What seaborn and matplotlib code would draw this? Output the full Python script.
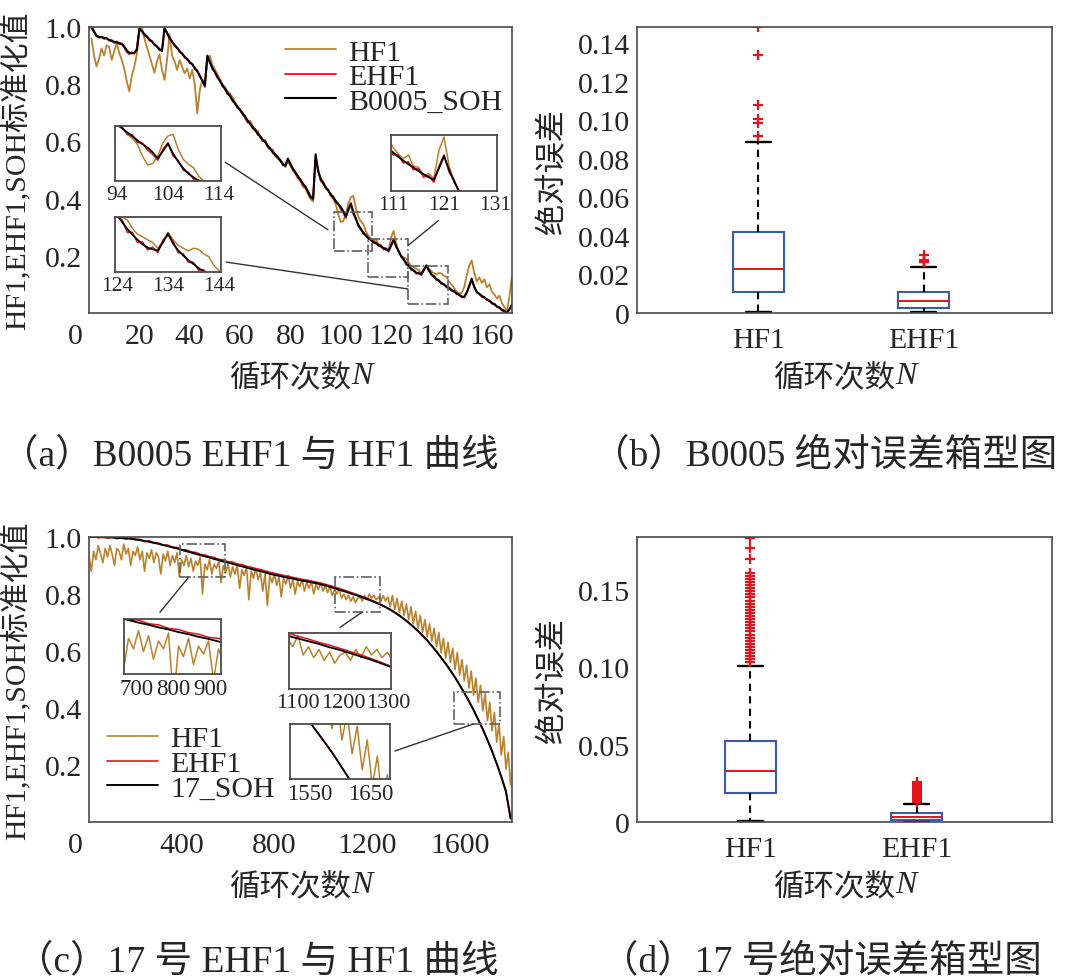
import numpy as np
import pandas as pd
import matplotlib
matplotlib.use("Agg")
import matplotlib.pyplot as plt
import seaborn as sns
from matplotlib.patches import Rectangle, ConnectionPatch

# ---------------- B0005 (cycles 1..168) ----------------
b5_cycle = list(range(1, 169))
b5_soh = [
    1.000, 0.985, 0.968, 0.966, 0.964, 0.962, 0.960, 0.955, 0.951, 0.948,
    0.946, 0.944, 0.940, 0.932, 0.918, 0.910, 0.908, 0.910, 0.920, 0.995,
    0.985, 0.975, 0.966, 0.957, 0.949, 0.940, 0.931, 0.923, 0.916, 0.998,
    0.978, 0.962, 0.948, 0.937, 0.926, 0.916, 0.906, 0.896, 0.887, 0.878,
    0.869, 0.858, 0.845, 0.830, 0.812, 0.795, 0.900, 0.876, 0.857, 0.841,
    0.826, 0.811, 0.797, 0.783, 0.770, 0.758, 0.745, 0.732, 0.721, 0.709,
    0.698, 0.686, 0.673, 0.661, 0.649, 0.640, 0.628, 0.617, 0.606, 0.597,
    0.585, 0.574, 0.563, 0.553, 0.545, 0.533, 0.520, 0.515, 0.540, 0.520,
    0.505, 0.490, 0.478, 0.465, 0.452, 0.440, 0.425, 0.405, 0.400, 0.555,
    0.495, 0.470, 0.455, 0.440, 0.428, 0.416, 0.404, 0.392, 0.380, 0.370,
    0.356, 0.338, 0.360, 0.382, 0.352, 0.328, 0.308, 0.292, 0.281, 0.270,
    0.262, 0.255, 0.249, 0.243, 0.238, 0.232, 0.227, 0.222, 0.218, 0.236,
    0.256, 0.234, 0.215, 0.199, 0.186, 0.174, 0.164, 0.155, 0.147, 0.141,
    0.138, 0.136, 0.150, 0.166, 0.148, 0.136, 0.127, 0.119, 0.112, 0.105,
    0.099, 0.093, 0.087, 0.081, 0.075, 0.069, 0.063, 0.058, 0.055, 0.070,
    0.095, 0.120, 0.090, 0.075, 0.066, 0.060, 0.054, 0.048, 0.042, 0.036,
    0.030, 0.024, 0.018, 0.012, 0.006, 0.000, 0.012, 0.030,
]
b5_ehf1 = [
    0.995, 0.982, 0.970, 0.962, 0.966, 0.958, 0.963, 0.952, 0.955, 0.944,
    0.950, 0.940, 0.943, 0.928, 0.912, 0.905, 0.912, 0.906, 0.925, 0.990,
    0.988, 0.970, 0.968, 0.952, 0.951, 0.936, 0.934, 0.918, 0.920, 0.990,
    0.982, 0.958, 0.951, 0.933, 0.929, 0.912, 0.909, 0.892, 0.890, 0.873,
    0.872, 0.853, 0.848, 0.826, 0.815, 0.790, 0.893, 0.880, 0.852, 0.845,
    0.822, 0.815, 0.792, 0.787, 0.765, 0.762, 0.740, 0.736, 0.716, 0.713,
    0.693, 0.690, 0.668, 0.665, 0.645, 0.644, 0.623, 0.621, 0.601, 0.601,
    0.580, 0.578, 0.558, 0.557, 0.540, 0.537, 0.515, 0.519, 0.535, 0.524,
    0.500, 0.494, 0.473, 0.469, 0.447, 0.444, 0.420, 0.409, 0.396, 0.545,
    0.500, 0.465, 0.459, 0.436, 0.432, 0.410, 0.409, 0.386, 0.384, 0.362,
    0.350, 0.332, 0.365, 0.385, 0.345, 0.332, 0.302, 0.296, 0.276, 0.274,
    0.258, 0.258, 0.245, 0.247, 0.234, 0.236, 0.222, 0.225, 0.214, 0.240,
    0.258, 0.230, 0.218, 0.195, 0.190, 0.168, 0.168, 0.150, 0.151, 0.137,
    0.142, 0.132, 0.154, 0.163, 0.152, 0.132, 0.130, 0.115, 0.115, 0.101,
    0.102, 0.089, 0.090, 0.077, 0.078, 0.065, 0.066, 0.054, 0.058, 0.074,
    0.092, 0.116, 0.094, 0.071, 0.069, 0.056, 0.057, 0.044, 0.045, 0.032,
    0.033, 0.020, 0.021, 0.008, 0.009, 0.002, 0.015, 0.028,
]
b5_hf1 = [
    0.960, 0.900, 0.862, 0.890, 0.925, 0.900, 0.936, 0.930, 0.885, 0.915,
    0.944, 0.910, 0.885, 0.855, 0.810, 0.775, 0.830, 0.862, 0.905, 0.985,
    1.000, 0.960, 0.930, 0.900, 0.870, 0.840, 0.880, 0.905, 0.850, 0.815,
    0.885, 0.975, 0.900, 0.880, 0.850, 0.885, 0.860, 0.838, 0.855, 0.820,
    0.850, 0.800, 0.698, 0.780, 0.815, 0.800, 0.885, 0.900, 0.868, 0.852,
    0.835, 0.818, 0.800, 0.790, 0.775, 0.768, 0.755, 0.738, 0.718, 0.712,
    0.702, 0.680, 0.665, 0.672, 0.655, 0.635, 0.638, 0.612, 0.600, 0.605,
    0.580, 0.570, 0.572, 0.548, 0.540, 0.530, 0.525, 0.510, 0.530, 0.515,
    0.498, 0.485, 0.470, 0.460, 0.440, 0.435, 0.415, 0.398, 0.390, 0.540,
    0.505, 0.460, 0.452, 0.435, 0.430, 0.410, 0.398, 0.380, 0.345, 0.318,
    0.322, 0.345, 0.385, 0.405, 0.410, 0.365, 0.335, 0.320, 0.310, 0.285,
    0.270, 0.260, 0.252, 0.258, 0.240, 0.238, 0.225, 0.228, 0.220, 0.265,
    0.287, 0.240, 0.215, 0.200, 0.195, 0.190, 0.175, 0.165, 0.160, 0.155,
    0.150, 0.140, 0.152, 0.168, 0.155, 0.145, 0.140, 0.135, 0.140, 0.138,
    0.130, 0.125, 0.110, 0.100, 0.088, 0.075, 0.068, 0.070, 0.090, 0.130,
    0.165, 0.184, 0.140, 0.110, 0.125, 0.105, 0.118, 0.090, 0.100, 0.075,
    0.065, 0.050, 0.060, 0.035, 0.020, 0.005, 0.060, 0.130,
]

# ---------------- cell 17 ----------------
c17_cycle = list(range(0, 1821, 20))
c17_soh = [
    1.000, 1.000, 1.000, 0.999, 0.999, 0.998, 0.997, 0.996, 0.995, 0.994,
    0.992, 0.989, 0.986, 0.983, 0.980, 0.976, 0.972, 0.968, 0.964, 0.960,
    0.955, 0.950, 0.946, 0.941, 0.937, 0.932, 0.928, 0.923, 0.919, 0.914,
    0.910, 0.906, 0.901, 0.897, 0.893, 0.888, 0.884, 0.880, 0.876, 0.871,
    0.867, 0.864, 0.860, 0.857, 0.854, 0.850, 0.847, 0.844, 0.841, 0.838,
    0.834, 0.830, 0.825, 0.820, 0.815, 0.810, 0.805, 0.799, 0.794, 0.788,
    0.782, 0.776, 0.769, 0.762, 0.754, 0.745, 0.735, 0.724, 0.712, 0.699,
    0.685, 0.670, 0.654, 0.637, 0.618, 0.598, 0.577, 0.555, 0.532, 0.507,
    0.481, 0.453, 0.424, 0.393, 0.360, 0.325, 0.288, 0.248, 0.205, 0.158,
    0.107, 0.012,
]
c17_ehf1 = [
    0.998, 1.002, 0.997, 1.001, 0.996, 1.000, 0.994, 0.998, 0.993, 0.997,
    0.990, 0.992, 0.984, 0.987, 0.978, 0.979, 0.971, 0.972, 0.963, 0.964,
    0.955, 0.955, 0.948, 0.946, 0.939, 0.937, 0.931, 0.928, 0.922, 0.920,
    0.913, 0.912, 0.905, 0.903, 0.897, 0.894, 0.889, 0.886, 0.881, 0.877,
    0.872, 0.869, 0.865, 0.862, 0.858, 0.855, 0.851, 0.849, 0.845, 0.842,
    0.838, 0.834, 0.829, 0.825, 0.819, 0.814, 0.808, 0.803, 0.797, 0.791,
    0.785, 0.778, 0.771, 0.763, 0.755, 0.746, 0.736, 0.725, 0.712, 0.700,
    0.685, 0.671, 0.653, 0.638, 0.617, 0.599, 0.576, 0.556, 0.531, 0.508,
    0.480, 0.454, 0.423, 0.394, 0.359, 0.326, 0.287, 0.249, 0.204, 0.159,
    0.106, 0.014,
]
c17_hf1_cycle = list(range(0, 1821, 10))
c17_hf1 = [
    0.930, 0.880, 0.950, 0.920, 0.970, 0.940, 0.910, 0.960, 0.930, 0.970,
    0.940, 0.900, 0.960, 0.950, 0.920, 0.975, 0.940, 0.960, 0.900, 0.950,
    0.935, 0.965, 0.920, 0.950, 0.880, 0.945, 0.925, 0.955, 0.910, 0.945,
    0.930, 0.870, 0.940, 0.915, 0.950, 0.900, 0.935, 0.910, 0.945, 0.860,
    0.920, 0.900, 0.935, 0.895, 0.925, 0.880, 0.915, 0.900, 0.930, 0.800,
    0.905, 0.885, 0.920, 0.870, 0.905, 0.890, 0.915, 0.840, 0.900, 0.875,
    0.905, 0.860, 0.895, 0.870, 0.900, 0.820, 0.885, 0.865, 0.895, 0.780,
    0.880, 0.855, 0.890, 0.850, 0.875, 0.810, 0.870, 0.760, 0.865, 0.840,
    0.870, 0.830, 0.860, 0.790, 0.855, 0.835, 0.865, 0.820, 0.850, 0.800,
    0.845, 0.825, 0.850, 0.810, 0.840, 0.820, 0.845, 0.800, 0.835, 0.815,
    0.840, 0.810, 0.830, 0.805, 0.825, 0.795, 0.815, 0.800, 0.820, 0.785,
    0.800, 0.780, 0.795, 0.775, 0.790, 0.770, 0.785, 0.790, 0.775, 0.795,
    0.780, 0.800, 0.785, 0.795, 0.780, 0.790, 0.775, 0.795, 0.775, 0.790,
    0.755, 0.795, 0.745, 0.785, 0.735, 0.775, 0.725, 0.765, 0.710, 0.755,
    0.695, 0.740, 0.680, 0.725, 0.665, 0.710, 0.650, 0.695, 0.635, 0.680,
    0.615, 0.665, 0.595, 0.645, 0.575, 0.630, 0.560, 0.610, 0.535, 0.595,
    0.515, 0.570, 0.495, 0.550, 0.470, 0.530, 0.445, 0.505, 0.420, 0.480,
    0.390, 0.450, 0.355, 0.420, 0.320, 0.385, 0.280, 0.345, 0.235, 0.300,
    0.185, 0.245, 0.130,
]

# ---------------- absolute errors (value / count tables) ----------------
b5_err_hf1_vals = [0.0005, 0.004, 0.008, 0.0109, 0.016, 0.023, 0.030, 0.036, 0.042,
                   0.055, 0.068, 0.078, 0.0886, 0.0918, 0.0987, 0.1004, 0.1077, 0.134, 0.1483]
b5_err_hf1_cnts = [2, 10, 15, 20, 20, 20, 20, 15, 20, 8, 6, 4, 2, 1, 1, 1, 1, 1, 1]
b5_err_ehf1_vals = [0.0003, 0.0012, 0.0024, 0.004, 0.006, 0.008, 0.011, 0.015, 0.019,
                    0.0237, 0.0262, 0.0266, 0.027, 0.0275, 0.0299]
b5_err_ehf1_cnts = [2, 10, 30, 20, 30, 20, 30, 8, 5, 2, 1, 1, 1, 1, 1]

c17_err_hf1_vals = [0.0005, 0.006, 0.012, 0.019, 0.026, 0.033, 0.042, 0.052, 0.065, 0.080, 0.092, 0.101]
c17_err_hf1_cnts = [2, 10, 15, 50, 40, 40, 40, 40, 4, 3, 2, 2]
c17_out_hf1 = [0.103, 0.105, 0.107, 0.109, 0.111, 0.113, 0.115, 0.117, 0.119, 0.121,
               0.123, 0.125, 0.127, 0.129, 0.131, 0.133, 0.135, 0.137, 0.139, 0.141,
               0.143, 0.145, 0.147, 0.149, 0.151, 0.153, 0.155, 0.157, 0.159, 0.161,
               0.170, 0.177, 0.1835]
c17_err_ehf1_vals = [0.0002, 0.0007, 0.0012, 0.002, 0.0032, 0.0045, 0.0058, 0.0075, 0.0095, 0.0118]
c17_err_ehf1_cnts = [3, 20, 70, 50, 60, 50, 60, 10, 6, 3]
c17_out_ehf1 = [0.0128, 0.0134, 0.0140, 0.0146, 0.0152, 0.0158, 0.0164, 0.0170, 0.0176,
                0.0182, 0.0188, 0.0194, 0.0200, 0.0206, 0.0212, 0.0218, 0.0224, 0.0230,
                0.0238, 0.0246, 0.0258]

methods = ["HF1", "EHF1"]

C_HF1 = "#b8822e"
C_EHF1 = "#e3131b"
C_SOH = "#000000"
C_BOX = "#3a5ba6"
C_FRAME = "#4a4a4a"

sns.set_style("white")
plt.rcParams["font.family"] = ["Liberation Serif", "Noto Sans CJK SC"]
plt.rcParams["axes.unicode_minus"] = False

W, H = 1070, 979
fig = plt.figure(figsize=(W / 100, H / 100), dpi=100)


def px_rect(x0, y0, x1, y1):
    return [x0 / W, 1 - y1 / H, (x1 - x0) / W, (y1 - y0) / H]


def frame(ax, lw=1.2):
    for s in ax.spines.values():
        s.set_visible(True)
        s.set_color(C_FRAME)
        s.set_linewidth(lw)


def cycle_label(ax, y=-0.175):
    # "循环次数" + italic N
    ax.set_xlabel("循环次数", fontsize=22)
    ax.xaxis.set_label_coords(0.475, y)
    ax.annotate("N", xy=(1.0, 0.08), xycoords=ax.xaxis.label, ha="left", va="bottom",
                fontsize=23, style="italic", family="Liberation Serif")


def draw_lines(ax, x_hf, y_hf, x, y_e, y_s, lw=1.2, label=True):
    sns.lineplot(x=x_hf, y=y_hf, color=C_HF1, lw=lw, ax=ax, estimator=None, sort=False,
                 label="HF1" if label else None, legend=False)
    sns.lineplot(x=x, y=y_e, color=C_EHF1, lw=lw, ax=ax, estimator=None, sort=False,
                 label="EHF1" if label else None, legend=False)
    sns.lineplot(x=x, y=y_s, color=C_SOH, lw=lw + 0.2, ax=ax, estimator=None, sort=False,
                 label=None, legend=False)


def main_axes(ax, xlim, xticks, xlabels):
    frame(ax)
    ax.set_xlim(*xlim)
    ax.set_ylim(0, 1.0)
    ax.set_xticks(xticks, labels=xlabels)
    ax.set_yticks([0.2, 0.4, 0.6, 0.8, 1.0], labels=["0.2", "0.4", "0.6", "0.8", "1.0"])
    ax.tick_params(direction="in", length=6, width=1.0, color=C_FRAME, labelsize=21.5)
    ax.tick_params(axis="x", pad=7)
    ax.tick_params(axis="y", pad=5)
    ax.annotate("0", xy=(0, 0), xycoords=("data", "axes fraction"), xytext=(-9.5, -7),
                textcoords="offset points", ha="center", va="top", fontsize=21.5)
    cycle_label(ax)
    ax.set_ylabel("HF1,EHF1,SOH标准化值", fontsize=21.5)
    ax.yaxis.set_label_coords(-0.135, 0.5)


def inset(main, box_px, rect, xlim, ylim, tick_pos, tick_lab, data, conn, fs=15.5):
    ins = fig.add_axes(px_rect(*box_px))
    draw_lines(ins, *data, lw=1.1, label=False)
    ins.set_xlim(*xlim)
    ins.set_ylim(*ylim)
    ins.set_xticks(tick_pos, labels=tick_lab)
    ins.set_yticks([])
    ins.set_xlabel("")
    ins.set_ylabel("")
    frame(ins, 1.3)
    ins.tick_params(direction="in", length=4, width=1.0, color=C_FRAME, labelsize=fs, pad=3)
    (rx0, ry0), (rx1, ry1) = rect
    main.add_patch(Rectangle((rx0, ry0), rx1 - rx0, ry1 - ry0, fill=False,
                             ec="#606060", lw=1.2, ls="-.", zorder=5))
    cp = ConnectionPatch(xyA=conn[0], coordsA=ins.transAxes, xyB=conn[1],
                         coordsB=main.transData, color="#333333", lw=1.0)
    fig.add_artist(cp)
    return ins


# ---------------- (a) ----------------
ax_a = fig.add_axes(px_rect(89, 28, 512, 314))
draw_lines(ax_a, b5_cycle, b5_hf1, b5_cycle, b5_ehf1, b5_soh, lw=1.3)
ax_a.lines[-1].set_label("B0005_SOH")
main_axes(ax_a, (0, 168), list(range(0, 161, 20)),
          [""] + [str(v) for v in range(20, 161, 20)])
ax_a.legend(loc="upper right", frameon=False, fontsize=21.5, handlelength=1.7,
            handletextpad=0.4, labelspacing=-0.08, borderaxespad=0.0,
            bbox_to_anchor=(1.005, 1.0))

b5_data = (b5_cycle, b5_hf1, b5_cycle, b5_ehf1, b5_soh)
inset(ax_a, (115, 127, 221, 182), ((97.5, 0.218), (112.3, 0.354)), (93.6, 114.4),
      (0.27, 0.435), [94, 104, 114], ["94", "104", "114"], b5_data,
      ((1.04, 0.34), (94.9, 0.291)))
inset(ax_a, (391, 136, 497, 192), ((110.8, 0.125), (126.7, 0.26)), (110.6, 131.4),
      (0.2, 0.29), [111, 121, 131], ["111", "121", "131"], b5_data,
      ((0.446, -0.53), (126.7, 0.236)))
inset(ax_a, (115, 218, 221, 273), ((126.7, 0.032), (142.6, 0.166)), (123.6, 144.4),
      (0.098, 0.195), [124, 134, 144], ["124", "134", "144"], b5_data,
      ((1.05, 0.18), (126.7, 0.084)))

# ---------------- (c) ----------------
ax_c = fig.add_axes(px_rect(89, 538, 512, 823))
draw_lines(ax_c, c17_hf1_cycle, c17_hf1, c17_cycle, c17_ehf1, c17_soh, lw=1.2)
ax_c.lines[-1].set_label("17_SOH")
main_axes(ax_c, (0, 1826), list(range(0, 1801, 200)),
          [str(v) if (v % 400 == 0 and v > 0) else "" for v in range(0, 1801, 200)])
ax_c.legend(loc="lower left", frameon=False, fontsize=21.5, handlelength=1.7,
            handletextpad=0.4, labelspacing=-0.08, borderaxespad=0.0,
            bbox_to_anchor=(0.015, 0.03))

c17_data = (c17_hf1_cycle, c17_hf1, c17_cycle, c17_ehf1, c17_soh)


def mapped_ticks(rect_x, lab_x, labels):
    (x0, x1), (l0, l1) = rect_x, lab_x
    return [x0 + (v - l0) / (l1 - l0) * (x1 - x0) for v in labels]


inset(ax_c, (124, 620, 221, 675), ((391, 0.859), (585, 0.975)), (391, 585),
      (0.852, 0.957), mapped_ticks((391, 585), (665, 930), [700, 800, 900]),
      ["700", "800", "900"], c17_data, ((0.37, 1.12), (430, 0.859)), fs=16.5)
inset(ax_c, (289, 634, 391, 690), ((1063, 0.736), (1257, 0.859)), (1063, 1257),
      (0.723, 0.825), mapped_ticks((1063, 1257), (1079, 1307), [1100, 1200, 1300]),
      ["1100", "1200", "1300"], c17_data, ((0.5, 1.1), (1178, 0.736)), fs=16)
inset(ax_c, (290, 725, 390, 780), ((1577, 0.344), (1775, 0.455)), (1577, 1775),
      (0.335, 0.455), mapped_ticks((1577, 1775), (1518, 1682), [1550, 1600, 1650]),
      ["1550", "", "1650"], c17_data, ((1.05, 0.51), (1660, 0.344)), fs=16.5)


# ---------------- box plots ----------------
def err_frame(hf_vals, hf_cnts, hf_out, e_vals, e_cnts, e_out):
    hf = list(np.repeat(hf_vals, hf_cnts)) + hf_out
    eh = list(np.repeat(e_vals, e_cnts)) + e_out
    return pd.DataFrame({"method": ["HF1"] * len(hf) + ["EHF1"] * len(eh),
                         "err": hf + eh})


def box_axes(ax, df, ylim, yticks, ylabels, xlim):
    sns.boxplot(data=df, x="method", y="err", order=methods, ax=ax, width=0.31,
                whis=1.5, fliersize=7, capwidths=0.15,
                boxprops=dict(facecolor="white", edgecolor=C_BOX, linewidth=1.5),
                medianprops=dict(color=C_EHF1, linewidth=1.4),
                whiskerprops=dict(color="black", linestyle=(0, (3.5, 2.5)), linewidth=1.5),
                capprops=dict(color="black", linewidth=1.7),
                flierprops=dict(marker="+", markeredgecolor=C_EHF1, markerfacecolor=C_EHF1,
                                markersize=7, markeredgewidth=1.6))
    frame(ax)
    ax.set_xlim(*xlim)
    ax.set_ylim(*ylim)
    ax.set_yticks(yticks, labels=ylabels)
    ax.tick_params(axis="y", direction="in", length=6, color=C_FRAME, labelsize=21.5, pad=5)
    ax.tick_params(axis="x", length=0, labelsize=21.5, pad=10)
    cycle_label(ax)
    ax.set_ylabel("绝对误差", fontsize=22.5)
    ax.yaxis.set_label_coords(-0.165, 0.5)


ax_b = fig.add_axes(px_rect(637, 28, 1052, 314))
box_axes(ax_b, err_frame(b5_err_hf1_vals, b5_err_hf1_cnts, [], b5_err_ehf1_vals,
                         b5_err_ehf1_cnts, []),
         (0, 0.1483), [0, 0.02, 0.04, 0.06, 0.08, 0.10, 0.12, 0.14],
         ["0", "0.02", "0.04", "0.06", "0.08", "0.10", "0.12", "0.14"], (-0.735, 1.777))

ax_d = fig.add_axes(px_rect(637, 538, 1052, 823))
box_axes(ax_d, err_frame(c17_err_hf1_vals, c17_err_hf1_cnts, c17_out_hf1,
                         c17_err_ehf1_vals, c17_err_ehf1_cnts, c17_out_ehf1),
         (0, 0.184), [0, 0.05, 0.10, 0.15], ["0", "0.05", "0.10", "0.15"], (-0.683, 1.815))

# ---------------- captions ----------------
cap_kw = dict(ha="center", va="center", fontsize=27)
fig.text(250 / W, 1 - 456 / H, "（a）B0005 EHF1 与 HF1 曲线", **cap_kw)
fig.text(825 / W, 1 - 456 / H, "（b）B0005 绝对误差箱型图", **cap_kw)
fig.text(257 / W, 1 - 962 / H, "（c）17 号 EHF1 与 HF1 曲线", **cap_kw)
fig.text(821 / W, 1 - 962 / H, "（d）17 号绝对误差箱型图", **cap_kw)

fig.savefig("out.png", dpi=100)
